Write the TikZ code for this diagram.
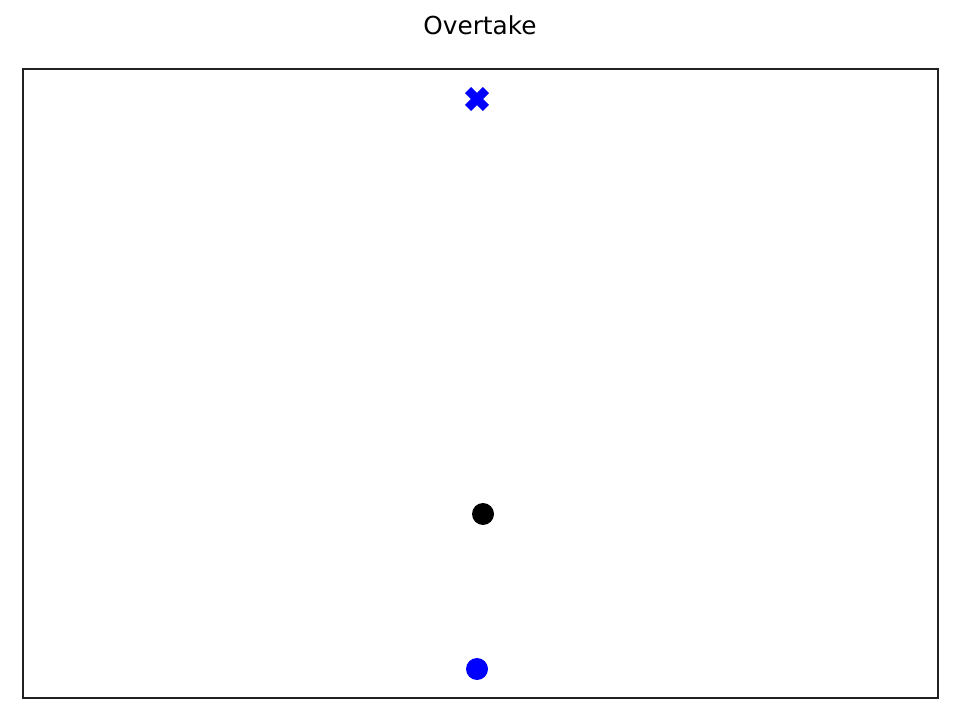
\documentclass[tikz,border=0pt]{standalone}
\usepackage{fontspec}
\setmainfont{DejaVu Sans}
\begin{document}
\begin{tikzpicture}[x=0.025cm,y=-0.025cm,
  frame/.style={draw=black!87,line width=0.95pt},
  dot/.style={circle,inner sep=0pt,minimum size=22*0.025cm},
  xmark/.style={fill=blue,draw=none}]
\useasboundingbox (0,0) rectangle (960,720);
\node[font=\fontsize{17.6pt}{21pt}\selectfont] (title) at (480,25) {Overtake};
\draw[frame] (23,69) rectangle (938,698);
\coordinate (goal) at (477,99);
\fill[xmark,shift={(goal)},rotate=45]
  (-4.3,-12.6) -- (4.3,-12.6) -- (4.3,-4.3) -- (12.6,-4.3) -- (12.6,4.3)
  -- (4.3,4.3) -- (4.3,12.6) -- (-4.3,12.6) -- (-4.3,4.3) -- (-12.6,4.3)
  -- (-12.6,-4.3) -- (-4.3,-4.3) -- cycle;
\node[dot,fill=black] (other) at (483,514) {};
\node[dot,fill=blue] (ego) at (477,669) {};
\end{tikzpicture}
\end{document}
